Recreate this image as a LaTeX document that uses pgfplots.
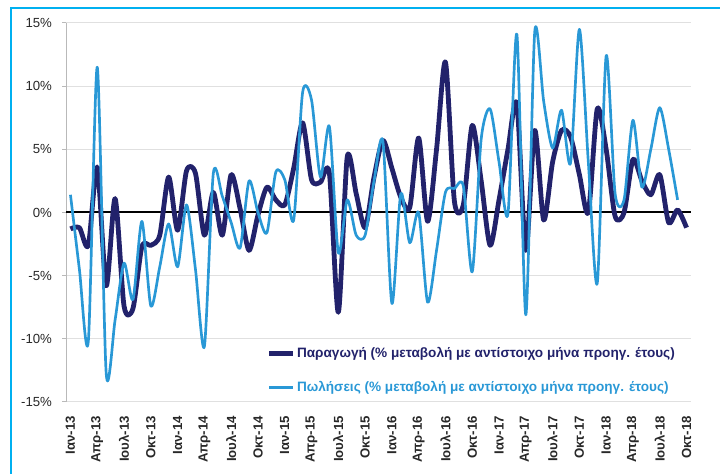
\documentclass[border=0pt]{standalone}
\usepackage{pgfplots}
\pgfplotsset{compat=1.18}
\usepackage{fontspec}
\setmainfont{Liberation Sans}
\definecolor{prodc}{RGB}{34,34,107}
\definecolor{salesc}{RGB}{41,152,214}
\definecolor{framec}{RGB}{0,176,240}
\definecolor{gridc}{RGB}{224,224,224}
\definecolor{labc}{RGB}{40,40,40}
\begin{document}
\begin{tikzpicture}
\useasboundingbox (0,0) rectangle (540pt,355.5pt);
\draw[framec, line width=1.6pt] (8.25pt,-5pt) -- (8.25pt,349.5pt) -- (545pt,349.5pt);
\begin{axis}[
  at={(49.5pt,54pt)}, anchor=south west,
  scale only axis, width=468.75pt, height=284.25pt,
  xmin=-0.5, xmax=69.5, ymin=-15, ymax=15,
  axis y line*=left, axis x line*=bottom,
  axis line style={-},
  x axis line style={draw=none},
  y axis line style={draw=gray!55, line width=0.75pt},
  xtick={0,3,...,69},
  xticklabels={Ιαν-13,Απρ-13,Ιουλ-13,Οκτ-13,Ιαν-14,Απρ-14,Ιουλ-14,Οκτ-14,Ιαν-15,Απρ-15,Ιουλ-15,Οκτ-15,Ιαν-16,Απρ-16,Ιουλ-16,Οκτ-16,Ιαν-17,Απρ-17,Ιουλ-17,Οκτ-17,Ιαν-18,Απρ-18,Ιουλ-18,Οκτ-18},
  xtick style={draw=none},
  xticklabel style={rotate=90, anchor=east, font=\bfseries\fontsize{9.9}{11}\selectfont, text=labc},
  xticklabel shift=4pt,
  ytick={-15,-10,-5,0,5,10,15},
  yticklabels={-15\%,-10\%,-5\%,0\%,5\%,10\%,15\%},
  yticklabel style={font=\fontsize{9.9}{11}\selectfont, text=labc},
  tick align=outside, major tick length=3pt,
  ytick style={draw=gray!55, line width=0.75pt},
  yticklabel shift=4pt,
  ymajorgrids, grid style={gridc, line width=0.75pt},
  extra y ticks={0}, extra y tick labels={},
  extra y tick style={grid style={black, line width=1.5pt}, major tick length=0pt},
  legend style={at={(0.321,0.148)}, anchor=north west, draw=none, fill=none,
    font=\bfseries\fontsize{10.2}{12}\selectfont, row sep=14.5pt, inner sep=0pt,
    nodes={inner sep=1pt}},
  legend cell align=left,
  legend image code/.code={\draw[#1] (0pt,0pt) -- (18pt,0pt);},
]
\addplot[prodc, line width=3.6pt, smooth, tension=0.45, line join=round] table {
0 -1.3
1 -1.2
2 -2.6
3 3.6
4 -5.8
5 1.1
6 -7.4
7 -7.6
8 -2.7
9 -2.6
10 -1.8
11 2.8
12 -1.4
13 3.3
14 3.1
15 -1.8
16 1.6
17 -1.8
18 3.0
19 0.3
20 -3.0
21 -0.2
22 2.0
23 1.0
24 0.6
25 3.5
26 7.1
27 2.6
28 2.4
29 3.1
30 -7.9
31 4.4
32 1.5
33 -1.2
34 2.8
35 5.7
36 3.5
37 1.2
38 0.4
39 5.9
40 -0.7
41 5.0
42 11.9
43 0.9
44 0.6
45 6.9
46 2.5
47 -2.6
48 1.0
49 5.0
50 8.6
51 -3.0
52 6.5
53 -0.6
54 4.0
55 6.5
56 6.0
57 3.0
58 0.0
59 8.2
60 5.0
61 -0.3
62 0.0
63 4.2
64 2.5
65 1.4
66 3.0
67 -0.8
68 0.2
69 -1.2
};
\addlegendentry{\textcolor{prodc}{Παραγωγή (\% μεταβολή με αντίστοιχο μήνα προηγ. έτους)}}
\addplot[salesc, line width=2pt, smooth, tension=0.45, line join=round] table {
0 1.4
1 -4.5
2 -10.2
3 11.5
4 -12.7
5 -8.5
6 -4.0
7 -6.9
8 -0.7
9 -7.4
10 -4.3
11 -0.9
12 -4.3
13 0.6
14 -4.5
15 -10.6
16 3.1
17 1.3
18 -0.8
19 -2.8
20 2.5
21 0.0
22 -1.6
23 3.2
24 2.6
25 -0.6
26 9.5
27 8.9
28 2.8
29 6.8
30 -3.2
31 1.0
32 -1.8
33 -1.8
34 2.5
35 5.6
36 -7.2
37 1.5
38 -2.4
39 0.0
40 -7.1
41 -3.0
42 1.6
43 1.9
44 2.1
45 -4.7
46 5.8
47 8.2
48 4.0
49 -0.1
50 14.1
51 -8.1
52 14.3
53 8.8
54 5.1
55 8.1
56 3.9
57 14.5
58 4.0
59 -5.6
60 12.4
61 1.5
62 1.0
63 7.3
64 2.0
65 5.0
66 8.3
67 5.0
68 1.0
};
\addlegendentry{\textcolor{salesc}{Πωλήσεις (\% μεταβολή με αντίστοιχο μήνα προηγ. έτους)}}
\end{axis}
\end{tikzpicture}
\end{document}
